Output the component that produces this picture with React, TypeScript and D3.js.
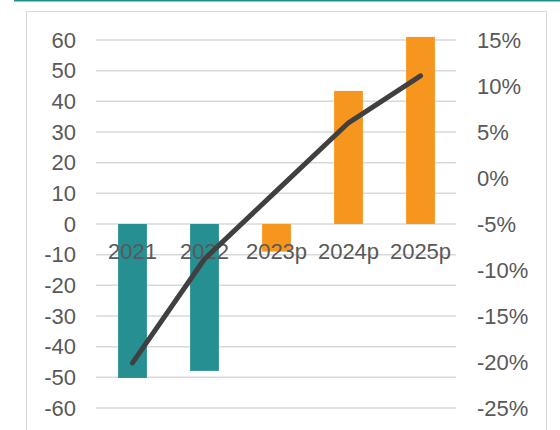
import React from 'react';
import * as d3 from 'd3';

const categories = ['2021', '2022', '2023p', '2024p', '2025p'];
const barValues = [-50.2, -47.9, -9, 43.4, 61];
const lineValues = [-20.1, -8.8, -1.4, 6.0, 11.1];
const leftTicks = [60, 50, 40, 30, 20, 10, 0, -10, -20, -30, -40, -50, -60];
const rightTicks = [15, 10, 5, 0, -5, -10, -15, -20, -25];

const width = 560;
const height = 430;
const teal = '#268f91';
const orange = '#f7961f';
const textColor = '#595959';
const gridColor = '#d9d9d9';
const font = '"Liberation Sans", Arial, sans-serif';

const App = () => {
  const x = d3.scaleBand<string>().domain(categories).range([96.5, 456.5]).padding(0);
  const yLeft = d3.scaleLinear().domain([-60, 60]).range([408, 40]);
  const yRight = d3.scaleLinear().domain([-25, 15]).range([408, 40]);
  const barW = x.bandwidth() * 0.4;

  const line = d3.line<number>()
    .x((_, i) => (x(categories[i]) ?? 0) + x.bandwidth() / 2)
    .y((d) => yRight(d));

  return (
    <svg
      width={width}
      height={height}
      style={{ position: 'absolute', left: 0, top: 0, background: '#fff' }}
      fontFamily={font}
    >
      <line x1={14} x2={560} y1={0.75} y2={0.75} stroke="#1f8f8c" strokeWidth={1.5} />
      <rect x={26.5} y={11.5} width={520} height={430} fill="none" stroke={gridColor} strokeWidth={1} />

      {leftTicks.map((t) => (
        <g key={'l' + t}>
          <line x1={96} x2={456} y1={yLeft(t)} y2={yLeft(t)} stroke={gridColor} strokeWidth={1.5} />
          <text x={76} y={yLeft(t)} dy="0.35em" textAnchor="end" fontSize={22} fill={textColor}>
            {t}
          </text>
        </g>
      ))}

      {rightTicks.map((t) => (
        <text key={'r' + t} x={477} y={yRight(t)} dy="0.35em" fontSize={22} fill={textColor}>
          {t}%
        </text>
      ))}

      {barValues.map((v, i) => (
        <rect
          key={categories[i]}
          x={(x(categories[i]) ?? 0) + (x.bandwidth() - barW) / 2}
          y={Math.min(yLeft(v), yLeft(0))}
          width={barW}
          height={Math.abs(yLeft(v) - yLeft(0))}
          fill={i < 2 ? teal : orange}
        />
      ))}

      {categories.map((c) => (
        <text
          key={'c' + c}
          x={(x(c) ?? 0) + x.bandwidth() / 2}
          y={259}
          textAnchor="middle"
          fontSize={22}
          fill={textColor}
        >
          {c}
        </text>
      ))}

      <path
        d={line(lineValues) ?? ''}
        fill="none"
        stroke="#404040"
        strokeWidth={5}
        strokeLinecap="round"
        strokeLinejoin="round"
      />
    </svg>
  );
};

export default App;
